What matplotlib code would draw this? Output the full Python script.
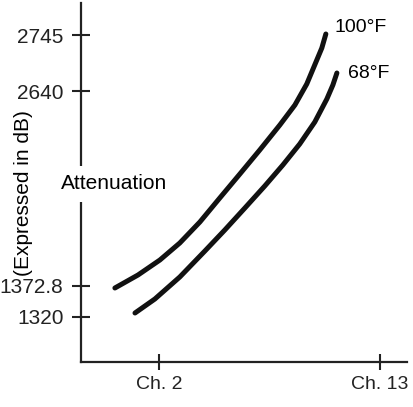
import numpy as np
import matplotlib.pyplot as plt

plt.rcParams.update({
    "font.family": ["Liberation Sans", "DejaVu Sans"],
    "font.size": 15,
})

# schematic curves, x in channel units, y in arbitrary plot units
x_100 = [-0.19, 0.96, 2.05, 3.04, 4.04, 5.03, 6.03, 7.02, 8.02, 8.77, 9.36, 9.86, 10.11, 10.31]
y_100 = [74, 87, 102, 119, 140, 164, 188, 212, 237, 257, 278, 302, 314, 328]

x_68 = [0.81, 1.80, 3.04, 4.29, 5.28, 6.28, 7.27, 8.17, 9.01, 9.76, 10.36, 10.66, 10.86]
y_68 = [49, 63, 85, 111, 132, 154, 176, 197, 218, 240, 263, 277, 289]

ytick_pos = [45, 76, 271, 327]
ytick_lab = ["1320", "1372.8", "2640", "2745"]
xtick_pos = [2, 13]
xtick_lab = ["Ch. 2", "Ch. 13"]

fig = plt.figure(figsize=(4.13, 4.07), dpi=100)
ax = fig.add_axes([0.196, 0.1106, 0.789, 0.882])

lw = 3.6
ax.plot(x_100, y_100, color="#111111", lw=lw, solid_capstyle="round", solid_joinstyle="round")
ax.plot(x_68, y_68, color="#111111", lw=lw, solid_capstyle="round", solid_joinstyle="round")

ax.text(10.76, 335, "100°F", fontsize=14, ha="left", va="center")
ax.text(11.4, 289, "68°F", fontsize=14, ha="left", va="center")

ax.set_xlim(-1.88, 14.34)
ax.set_ylim(0, 359)

ax.spines["top"].set_visible(False)
ax.spines["right"].set_visible(False)
for s in ["left", "bottom"]:
    ax.spines[s].set_linewidth(1.6)
    ax.spines[s].set_color("#222222")

ax.set_yticks(ytick_pos)
ax.set_yticklabels(ytick_lab)
ax.set_xticks(xtick_pos)
ax.set_xticklabels(xtick_lab, fontsize=14)
ax.tick_params(axis="y", direction="inout", length=13, width=1.5, pad=6, colors="#222222")
ax.tick_params(axis="x", direction="inout", length=11.5, width=1.5, pad=4, colors="#222222")

ax.set_ylabel("(Expressed in dB)", fontsize=15)
ax.yaxis.set_label_coords(-0.147, 0.471)

ax.text(-0.24, 178, "Attenuation", fontsize=15, ha="center", va="center",
        bbox=dict(facecolor="white", edgecolor="none", pad=6), clip_on=False, zorder=5)

plt.savefig("out.png", dpi=100)
